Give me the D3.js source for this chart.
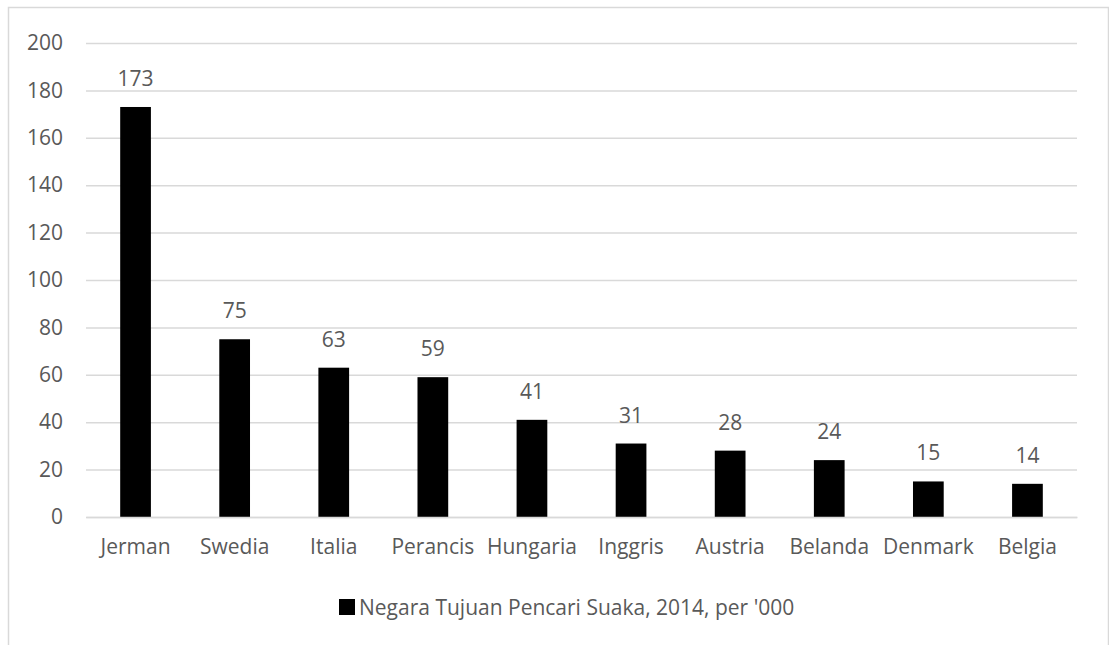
<!DOCTYPE html>
<html>
<head>
<meta charset="utf-8">
<script src="https://cdn.jsdelivr.net/npm/d3@7"></script>
<style>
  html, body { margin: 0; padding: 0; background: #fff; }
  svg text { font-family: "Open Sans", sans-serif; fill: #595959; }
</style>
</head>
<body>
<svg id="chart" width="1109" height="645"></svg>
<script>
const categories = ["Jerman", "Swedia", "Italia", "Perancis", "Hungaria", "Inggris", "Austria", "Belanda", "Denmark", "Belgia"];
const values = [173, 75, 63, 59, 41, 31, 28, 24, 15, 14];
const yTicks = [0, 20, 40, 60, 80, 100, 120, 140, 160, 180, 200];
const seriesName = "Negara Tujuan Pencari Suaka, 2014, per '000";

(function () {
const svg = d3.select("#chart");
const FS = 21;

// outer border
svg.append("rect")
  .attr("x", 8.5).attr("y", 7.5)
  .attr("width", 1100).attr("height", 700)
  .attr("fill", "none").attr("stroke", "#d9d9d9").attr("stroke-width", 1.5);

const mLeft = 86, mRight = 1077, mTop = 43, mBottom = 517;

const x = d3.scaleBand().domain(categories).range([mLeft, mRight]).paddingInner(0.69).paddingOuter(0.345);
const y = d3.scaleLinear().domain([0, 200]).range([mBottom, mTop]);

// gridlines
const yAxis = d3.axisLeft(y).tickValues(yTicks).tickSize(-(mRight - mLeft)).tickPadding(23);
const gy = svg.append("g").attr("transform", `translate(${mLeft},0)`).call(yAxis);
gy.select(".domain").remove();
gy.selectAll(".tick line").attr("stroke", "#d9d9d9").attr("stroke-width", 1.5);
gy.selectAll(".tick text").attr("font-size", FS).style("fill", "#595959").attr("font-family", "Open Sans");

// bars
svg.append("g").selectAll("rect").data(values).join("rect")
  .attr("x", (d, i) => x(categories[i]))
  .attr("y", d => y(d))
  .attr("width", x.bandwidth())
  .attr("height", d => y(0) - y(d))
  .attr("fill", "#000");

// x axis
const xAxis = d3.axisBottom(x).tickSize(0).tickPadding(22);
const gx = svg.append("g").attr("transform", `translate(0,${mBottom})`).call(xAxis);
gx.select(".domain").attr("stroke", "#d9d9d9").attr("stroke-width", 1.5);
gx.selectAll(".tick text").attr("font-size", FS).style("fill", "#595959").attr("font-family", "Open Sans");

// data labels
svg.append("g").selectAll("text").data(values).join("text")
  .attr("x", (d, i) => x(categories[i]) + x.bandwidth() / 2)
  .attr("y", d => y(d) - 21)
  .attr("text-anchor", "middle")
  .attr("font-size", FS)
  .text(d => d);

// legend
const lg = svg.append("g");
lg.append("rect").attr("x", 339).attr("y", 599).attr("width", 16).attr("height", 16).attr("fill", "#000");
lg.append("text").attr("x", 359).attr("y", 615).attr("font-size", FS).text(seriesName);
})();
</script>
</body>
</html>
